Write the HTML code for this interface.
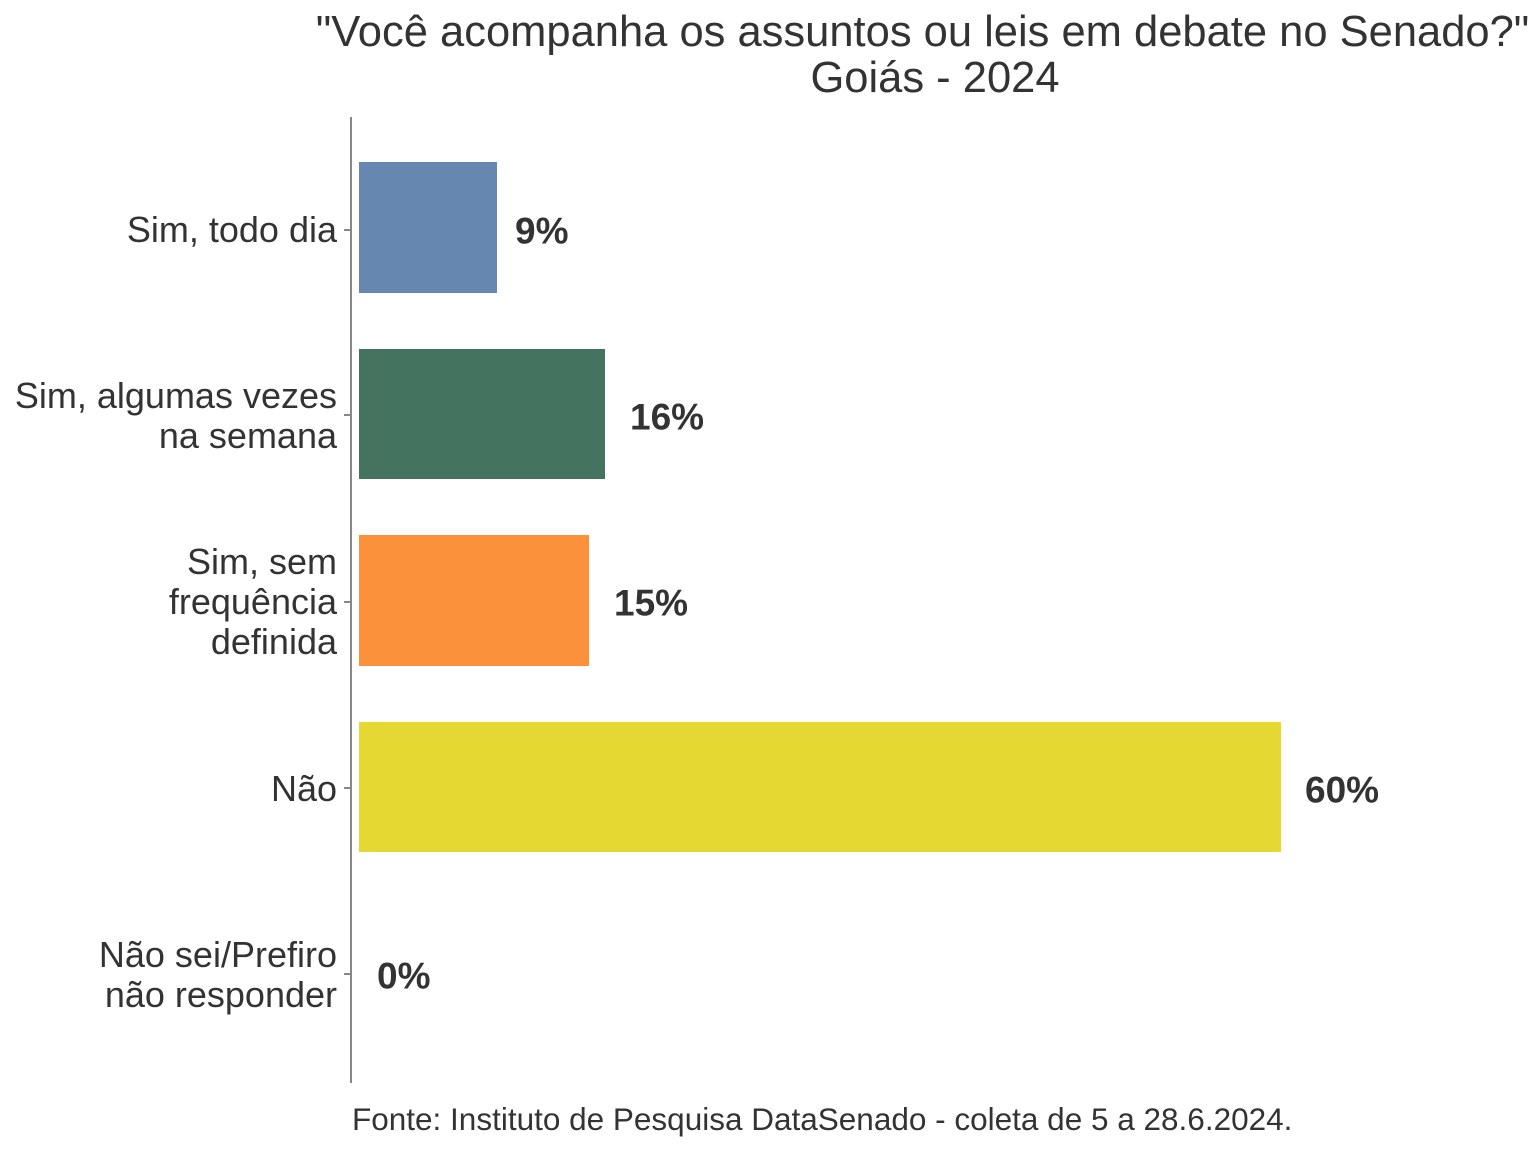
<!DOCTYPE html>
<html><head><meta charset="utf-8"><style>
body{margin:0;width:1536px;height:1152px;background:#fff;position:relative;overflow:hidden;font-family:"Liberation Sans",Arial,sans-serif;color:#333}
.t{position:absolute;white-space:nowrap;line-height:1}
.lab{position:absolute;right:1199px;text-align:right;font-size:36px;line-height:40px;white-space:nowrap;transform:translateY(-50%)}
.val{position:absolute;font-size:37px;font-weight:bold;transform:translateY(-50%);line-height:1}
.bar{position:absolute;left:359px}
.tick{position:absolute;left:344px;width:6px;height:1.5px;background:#888}
</style></head><body>
<div class="t" style="left:0;width:1845px;text-align:center;top:11px;font-size:43.5px">"Você acompanha os assuntos ou leis em debate no Senado?"</div>
<div class="t" style="left:0;width:1870px;text-align:center;top:57px;font-size:43.5px">Goiás - 2024</div>
<div style="position:absolute;left:350px;top:117px;width:1.6px;height:966px;background:#888"></div>
<div class="tick" style="top:229px"></div>
<div class="tick" style="top:414px"></div>
<div class="tick" style="top:601px"></div>
<div class="tick" style="top:787px"></div>
<div class="tick" style="top:973px"></div>
<div class="bar" style="top:162px;width:138px;height:131px;background:#6688b0"></div>
<div class="bar" style="top:349px;width:246px;height:130px;background:#44735f"></div>
<div class="bar" style="top:535px;width:230px;height:131px;background:#fb913b"></div>
<div class="bar" style="top:722px;width:922px;height:130px;background:#e5d833"></div>
<div class="lab" style="top:230px">Sim, todo dia</div>
<div class="lab" style="top:416px">Sim, algumas vezes<br>na semana</div>
<div class="lab" style="top:602px">Sim, sem<br>frequência<br>definida</div>
<div class="lab" style="top:789px">Não</div>
<div class="lab" style="top:975px">Não sei/Prefiro<br>não responder</div>
<div class="val" style="left:515px;top:231px">9%</div>
<div class="val" style="left:630px;top:417px">16%</div>
<div class="val" style="left:614px;top:603px">15%</div>
<div class="val" style="left:1305px;top:790px">60%</div>
<div class="val" style="left:377px;top:976px">0%</div>
<div class="t" style="left:352px;top:1104px;font-size:31.5px">Fonte: Instituto de Pesquisa DataSenado - coleta de 5 a 28.6.2024.</div>
</body></html>
